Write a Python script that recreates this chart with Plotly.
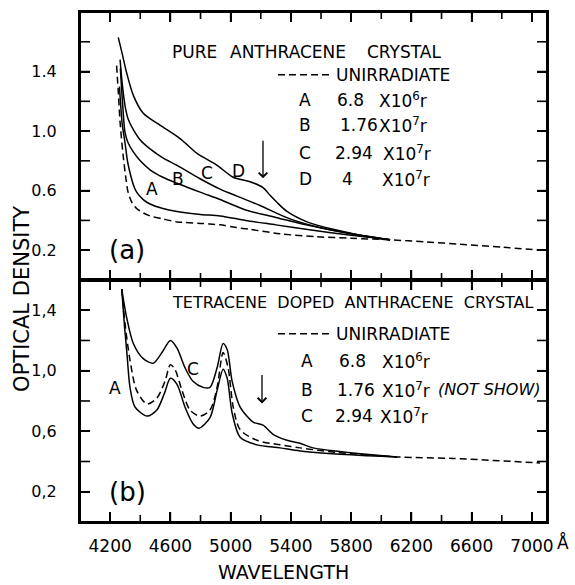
import plotly.graph_objects as go

# ---------------- data : panel (a) pure anthracene crystal ----------------
wl_a_unirr = [4243, 4255, 4266, 4286, 4305, 4319, 4345, 4376, 4420, 4465, 4550, 4644, 4800,
              4930, 5017, 5129, 5328, 5574, 5800, 6058, 6300, 6523, 6800, 7054]
od_a_unirr = [1.44, 1.25, 1.06, 0.84, 0.68, 0.59, 0.52, 0.48, 0.45, 0.43, 0.41, 0.39, 0.38,
              0.37, 0.355, 0.34, 0.31, 0.29, 0.28, 0.27, 0.255, 0.24, 0.22, 0.20]

wl_a_A = [4262, 4280, 4299, 4315, 4332, 4354, 4376, 4420, 4465, 4550, 4644, 4800, 4930,
          5100, 5300, 5500, 5800, 6058]
od_a_A = [1.30, 1.05, 0.92, 0.80, 0.72, 0.64, 0.59, 0.54, 0.51, 0.48, 0.46, 0.44, 0.43,
          0.40, 0.37, 0.34, 0.30, 0.27]

wl_a_B = [4268, 4285, 4299, 4320, 4354, 4400, 4465, 4550, 4644, 4797, 4930, 5100, 5300,
          5500, 5800, 6058]
od_a_B = [1.42, 1.15, 0.99, 0.92, 0.86, 0.80, 0.74, 0.69, 0.65, 0.59, 0.54, 0.47, 0.42,
          0.37, 0.31, 0.27]

wl_a_C = [4266, 4280, 4299, 4320, 4354, 4400, 4465, 4550, 4644, 4797, 4930, 5050, 5195,
          5394, 5600, 5800, 6058]
od_a_C = [1.48, 1.32, 1.17, 1.08, 1.01, 0.94, 0.88, 0.82, 0.77, 0.68, 0.61, 0.56, 0.50,
          0.41, 0.35, 0.31, 0.27]

wl_a_D = [4254, 4280, 4310, 4354, 4420, 4531, 4664, 4777, 4910, 5017, 5129, 5215, 5260,
          5308, 5374, 5507, 5680, 5972, 6058]
od_a_D = [1.63, 1.52, 1.39, 1.24, 1.12, 1.04, 0.95, 0.85, 0.77, 0.69, 0.66, 0.62, 0.57,
          0.52, 0.46, 0.39, 0.34, 0.28, 0.27]

# ---------------- data : panel (b) tetracene doped anthracene crystal ----------------
wl_b_unirr = [4277, 4299, 4332, 4376, 4445, 4511, 4564, 4600, 4630, 4677, 4730, 4797, 4863,
              4910, 4950, 4983, 5017, 5063, 5175, 5328, 5461, 5700, 6105, 6477, 7054]
od_b_unirr = [1.54, 1.31, 1.07, 0.87, 0.78, 0.82, 0.93, 1.04, 1.01, 0.87, 0.74, 0.70, 0.74,
              0.89, 1.12, 1.02, 0.76, 0.61, 0.54, 0.51, 0.49, 0.46, 0.43, 0.42, 0.39]

wl_b_A = [4277, 4295, 4312, 4332, 4365, 4445, 4510, 4560, 4600, 4644, 4697, 4750, 4790,
          4863, 4910, 4950, 4977, 5010, 5063, 5175, 5328, 5461, 5700, 6105]
od_b_A = [1.54, 1.30, 1.11, 0.89, 0.76, 0.70, 0.74, 0.85, 0.95, 0.91, 0.76, 0.65, 0.62,
          0.69, 0.87, 1.01, 0.95, 0.72, 0.56, 0.51, 0.49, 0.47, 0.45, 0.43]

wl_b_C = [4277, 4310, 4354, 4420, 4486, 4544, 4600, 4644, 4697, 4750, 4817, 4863, 4910,
          4950, 4977, 5010, 5063, 5150, 5215, 5282, 5374, 5461, 5547, 5879, 6105]
od_b_C = [1.54, 1.35, 1.18, 1.08, 1.05, 1.12, 1.20, 1.15, 1.02, 0.93, 0.89, 0.89, 1.02,
          1.18, 1.14, 0.93, 0.76, 0.66, 0.64, 0.58, 0.54, 0.52, 0.49, 0.45, 0.43]

# axis ticks
x_major = [4200, 4600, 5000, 5400, 5800, 6200, 6600, 7000]
x_labels = ["4200", "4600", "5000", "5400", "5800", "6200", "6600", "7000"]
x_minor = [4400, 4800, 5200, 5600, 6000, 6400, 6800]
y_major = [0.2, 0.6, 1.0, 1.4]
y_labels_a = ["0.2", "0.6", "1.0", "1.4"]
y_labels_b = ["0,2", "0,6", "1,0", "1,4"]
y_minor_a = [0.4, 0.8, 1.2, 1.6]
y_minor_b = [0.4, 0.8, 1.2]

X_RANGE = [4000, 7100]
YA_RANGE = [0, 1.8]
YB_RANGE = [0, 1.6]

# ---------------- figure ----------------
W, H = 575, 585
PL, PR, PT, PB = 80, 547, 10, 522          # plot area in window pixels
SPLIT = 279                                # boundary between the two panels
FONT = "DejaVu Sans"


def px(xpix):
    return (xpix - PL) / (PR - PL)


def py(ypix):
    return (PB - ypix) / (PB - PT)


split = py(SPLIT)

fig = go.Figure()

solid = dict(color="black", width=1.5, shape="spline", smoothing=0.8)
dashed = dict(color="black", width=1.5, shape="spline", smoothing=0.8, dash="7px,4px")

for wl, od, ln in [(wl_a_unirr, od_a_unirr, dashed), (wl_a_A, od_a_A, solid),
                   (wl_a_B, od_a_B, solid), (wl_a_C, od_a_C, solid), (wl_a_D, od_a_D, solid)]:
    fig.add_trace(go.Scatter(x=wl, y=od, mode="lines", line=ln, showlegend=False,
                             hoverinfo="skip", xaxis="x", yaxis="y"))
for wl, od, ln in [(wl_b_unirr, od_b_unirr, dashed), (wl_b_A, od_b_A, solid),
                   (wl_b_C, od_b_C, solid)]:
    fig.add_trace(go.Scatter(x=wl, y=od, mode="lines", line=ln, showlegend=False,
                             hoverinfo="skip", xaxis="x2", yaxis="y2"))

xcommon = dict(range=X_RANGE, tickmode="array", tickvals=x_major, ticktext=x_labels,
               ticks="inside", ticklen=10, tickwidth=1.6, tickcolor="black",
               showline=True, linecolor="black", linewidth=2, mirror="ticks",
               showgrid=False, zeroline=False, domain=[0, 1])
ycommon = dict(tickmode="array", tickvals=y_major,
               ticks="inside", ticklen=10, tickwidth=1.6, tickcolor="black",
               showline=True, linecolor="black", linewidth=2, mirror="ticks",
               showgrid=False, zeroline=False, ticklabelstandoff=18,
               tickfont=dict(family=FONT, size=16, color="black"))

fig.update_layout(
    width=W, height=H,
    margin=dict(l=PL, r=W - PR, t=PT, b=H - PB, pad=0),
    paper_bgcolor="white", plot_bgcolor="white",
    font=dict(family=FONT, size=16, color="black"),
    xaxis=dict(**xcommon, anchor="y", showticklabels=False),
    xaxis2=dict(**xcommon, anchor="y2", showticklabels=True, ticklabelstandoff=8,
                tickfont=dict(family=FONT, size=17, color="black")),
    yaxis=dict(**ycommon, anchor="x", range=YA_RANGE, ticktext=y_labels_a,
               domain=[split, 1]),
    yaxis2=dict(**ycommon, anchor="x2", range=YB_RANGE, ticktext=y_labels_b,
                domain=[0, split]),
)

ann = []


def txt(text, xpix, ypix, size=17, anchor="left", **kw):
    ann.append(dict(text=text, x=px(xpix), y=py(ypix), xref="paper", yref="paper",
                    xanchor=anchor, yanchor="middle", showarrow=False,
                    font=dict(family=FONT, size=size, color="black"), **kw))


# panel (a) legend block
txt("PURE", 170, 50)
txt("ANTHRACENE", 228, 50)
txt("CRYSTAL", 365, 50)
txt("UNIRRADIATE", 334, 73)
txt("A", 305, 98, anchor="center")
txt("6.8", 335, 98)
txt("X10<sup>6</sup>r", 377, 98)
txt("B", 305, 123, anchor="center")
txt("1.76", 338, 123)
txt("X10<sup>7</sup>r", 377, 123)
txt("C", 305, 152, anchor="center")
txt("2.94", 333, 152)
txt("X10<sup>7</sup>r", 381, 152)
txt("D", 305, 178, anchor="center")
txt("4", 340, 178)
txt("X10<sup>7</sup>r", 380, 178)

# panel (b) legend block
txt("TETRACENE  DOPED  ANTHRACENE  CRYSTAL", 170, 302, size=16)
txt("UNIRRADIATE", 334, 333)
txt("A", 307, 360, anchor="center")
txt("6.8", 337, 360)
txt("X10<sup>6</sup>r", 380, 360)
txt("B", 307, 389, anchor="center")
txt("1.76", 335, 389)
txt("X10<sup>7</sup>r", 380, 389)
txt("<i>(NOT SHOW)</i>", 436, 389, size=16)
txt("C", 307, 416, anchor="center")
txt("2.94", 333, 416)
txt("X10<sup>7</sup>r", 378, 416)

# curve letters
txt("A", 152, 188, anchor="center")
txt("B", 178, 178, anchor="center")
txt("C", 207, 172, anchor="center")
txt("D", 238, 170, anchor="center")
txt("A", 115, 387, anchor="center")
txt("C", 193, 368, anchor="center")

# panel tags
txt("(a)", 127, 249, size=26, anchor="center")
txt("(b)", 127, 492, size=26, anchor="center")

# axis titles
txt("OPTICAL DENSITY", 22, 298, size=21, anchor="center", textangle=-90)
txt("WAVELENGTH", 283, 572, size=19, anchor="center")
txt("Å", 563, 543, size=17, anchor="center")

# arrows marking the shoulder near 5200 Å
for xp_, y0, y1 in [(263, 138, 177), (262, 373, 403)]:
    ann.append(dict(x=px(xp_), y=py(y1), ax=0, ay=-(y1 - y0), xref="paper", yref="paper",
                    axref="pixel", ayref="pixel", showarrow=True, arrowhead=4,
                    arrowsize=1.3, arrowwidth=1.3, arrowcolor="black", text=""))

fig.update_layout(annotations=ann)

# ---- frames and inward ticks drawn as paper-referenced shapes ----
tick_line = dict(color="black", width=1.6)


def xfrac(v):
    return (v - X_RANGE[0]) / (X_RANGE[1] - X_RANGE[0])


panels = [(split, 1.0, YA_RANGE, y_minor_a), (0.0, split, YB_RANGE, y_minor_b)]
dy_major = 10 / (PB - PT)
dy_minor = 7 / (PB - PT)
dx_tick = 10 / (PR - PL)
for ylo, yhi, yr, ymin in panels:
    fig.add_shape(type="rect", xref="paper", yref="paper", x0=0, x1=1, y0=ylo, y1=yhi,
                  line=dict(color="black", width=2), fillcolor="rgba(0,0,0,0)", layer="above")
    for vals, d in [(x_major, dy_major), (x_minor, dy_minor)]:
        for v in vals:
            xp_ = xfrac(v)
            fig.add_shape(type="line", xref="paper", yref="paper", x0=xp_, x1=xp_,
                          y0=ylo, y1=ylo + d, line=tick_line, layer="above")
            fig.add_shape(type="line", xref="paper", yref="paper", x0=xp_, x1=xp_,
                          y0=yhi - d, y1=yhi, line=tick_line, layer="above")
    for v in list(y_major) + list(ymin):
        yp_ = ylo + (v - yr[0]) / (yr[1] - yr[0]) * (yhi - ylo)
        fig.add_shape(type="line", xref="paper", yref="paper", x0=0, x1=dx_tick,
                      y0=yp_, y1=yp_, line=tick_line, layer="above")
        fig.add_shape(type="line", xref="paper", yref="paper", x0=1 - dx_tick, x1=1,
                      y0=yp_, y1=yp_, line=tick_line, layer="above")

# legend dash samples
for yy in [73, 333]:
    fig.add_shape(type="line", xref="paper", yref="paper", x0=px(278), x1=px(330),
                  y0=py(yy), y1=py(yy), line=dict(color="black", width=1.5, dash="7px,4px"))

# the page body has a default 8 px margin; remove it so the figure fills the window
fig.write_html("out.html", config={"displayModeBar": False},
               post_script="document.body.style.margin='0px';")
